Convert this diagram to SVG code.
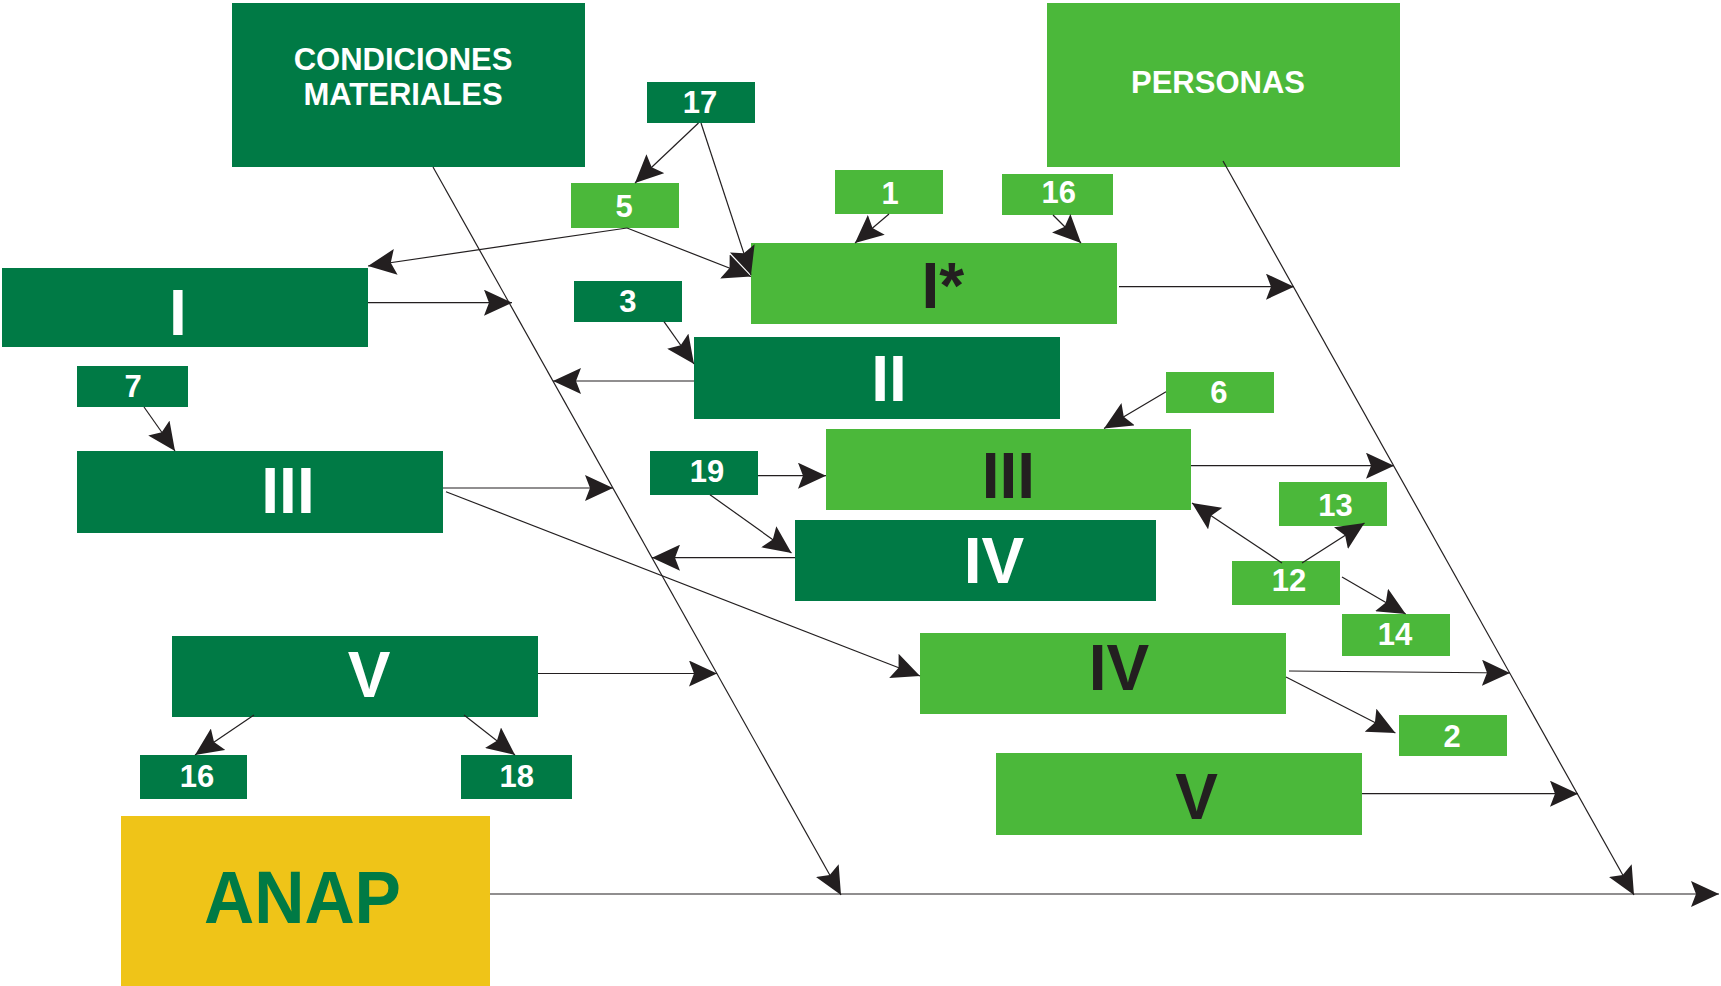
<svg xmlns="http://www.w3.org/2000/svg" width="1721" height="986" viewBox="0 0 1721 986">
<style>
.dk{fill:#007A45}
.lt{fill:#4BB83A}
.yl{fill:#EFC418}
.t{font-family:"Liberation Sans",Arial,sans-serif;font-weight:bold;text-anchor:middle}
.w{fill:#FFFFFF}
.b{fill:#231F20}
.n{font-size:31px}
.r{font-size:64px}
.h{font-size:31px}
.c{stroke:#231F20;stroke-width:1.2;fill:none;marker-end:url(#ah)}
</style>
<defs>
<marker id="ah" viewBox="0 0 28 26" markerWidth="28" markerHeight="26" refX="28" refY="13" orient="auto" markerUnits="userSpaceOnUse">
<path d="M0,0 L28,13 L0,26 L5,13 Z" fill="#231F20"/>
</marker>
</defs>
<rect width="1721" height="986" fill="#FFFFFF"/>
<g id="condiciones"><rect class="dk" x="232" y="3" width="353" height="164"/><text class="t w h" x="403" y="70">CONDICIONES</text><text class="t w h" x="403" y="105">MATERIALES</text></g>
<g id="personas"><rect class="lt" x="1047" y="3" width="353" height="164"/><text class="t w h" x="1218" y="92.5">PERSONAS</text></g>
<g id="anap"><rect class="yl" x="121" y="816" width="369" height="170"/><text class="t" x="302.5" y="923" font-size="74" fill="#007A45" textLength="197" lengthAdjust="spacingAndGlyphs">ANAP</text></g>
<g id="cm-I"><rect class="dk" x="2" y="268" width="366" height="79"/><text class="t w r" x="178" y="334.7">I</text></g>
<g id="cm-II"><rect class="dk" x="694" y="337" width="366" height="82"/><text class="t w r" x="889" y="401">II</text></g>
<g id="cm-III"><rect class="dk" x="77" y="451" width="366" height="82"/><text class="t w r" x="288" y="513">III</text></g>
<g id="cm-IV"><rect class="dk" x="795" y="520" width="361" height="81"/><text class="t w r" x="994" y="582.7">IV</text></g>
<g id="cm-V"><rect class="dk" x="172" y="636" width="366" height="81"/><text class="t w r" x="369" y="697">V</text></g>
<g id="p-I"><rect class="lt" x="751" y="243" width="366" height="81"/><text class="t b r" x="921.4" y="308.3" style="text-anchor:start">I*</text></g>
<g id="p-III"><rect class="lt" x="826" y="429" width="365" height="81"/><text class="t b r" x="1008.4" y="497.7">III</text></g>
<g id="p-IV"><rect class="lt" x="920" y="633" width="366" height="81"/><text class="t b r" x="1119" y="690">IV</text></g>
<g id="p-V"><rect class="lt" x="996" y="753" width="366" height="82"/><text class="t b r" x="1196.5" y="819.3">V</text></g>
<g id="n17"><rect class="dk" x="647" y="82" width="108" height="41"/><text class="t w n" x="700" y="113.3">17</text></g>
<g id="n5"><rect class="lt" x="571" y="183" width="108" height="45"/><text class="t w n" x="624" y="217.3">5</text></g>
<g id="n1"><rect class="lt" x="835" y="170" width="108" height="44"/><text class="t w n" x="890" y="204">1</text></g>
<g id="n16a"><rect class="lt" x="1002" y="174" width="111" height="41"/><text class="t w n" x="1058.7" y="203.3">16</text></g>
<g id="n3"><rect class="dk" x="574" y="281" width="108" height="41"/><text class="t w n" x="627.8" y="311.7">3</text></g>
<g id="n7"><rect class="dk" x="77" y="366" width="111" height="41"/><text class="t w n" x="133" y="396.7">7</text></g>
<g id="n19"><rect class="dk" x="650" y="451" width="108" height="44"/><text class="t w n" x="707" y="481.7">19</text></g>
<g id="n6"><rect class="lt" x="1166" y="372" width="108" height="41"/><text class="t w n" x="1218.8" y="402.7">6</text></g>
<g id="n13"><rect class="lt" x="1279" y="482" width="108" height="44"/><text class="t w n" x="1335.6" y="516">13</text></g>
<g id="n12"><rect class="lt" x="1232" y="561" width="108" height="44"/><text class="t w n" x="1289" y="590.7">12</text></g>
<g id="n14"><rect class="lt" x="1342" y="614" width="108" height="42"/><text class="t w n" x="1395" y="645">14</text></g>
<g id="n2"><rect class="lt" x="1399" y="715" width="108" height="41"/><text class="t w n" x="1452" y="746.7">2</text></g>
<g id="n16b"><rect class="dk" x="140" y="755" width="107" height="44"/><text class="t w n" x="197" y="786.7">16</text></g>
<g id="n18"><rect class="dk" x="461" y="755" width="111" height="44"/><text class="t w n" x="516.7" y="786.7">18</text></g>
<g id="connectors">
<line class="c" x1="433" y1="167" x2="841" y2="895"/>
<line class="c" x1="1223" y1="161" x2="1634" y2="895"/>
<line class="c" x1="490" y1="894" x2="1719" y2="894"/>
<line class="c" x1="368" y1="302.7" x2="512" y2="302.7"/>
<line class="c" x1="1119" y1="286.7" x2="1294" y2="286.7"/>
<line class="c" x1="694" y1="381" x2="553" y2="381"/>
<line class="c" x1="443" y1="488" x2="613" y2="488"/>
<line class="c" x1="446" y1="491.7" x2="920" y2="676"/>
<line class="c" x1="538" y1="673.5" x2="717" y2="673.5"/>
<line class="c" x1="795" y1="557.7" x2="652" y2="557.7"/>
<line class="c" x1="1191" y1="465.7" x2="1394" y2="465.7"/>
<line class="c" x1="1289" y1="671" x2="1510" y2="673"/>
<line class="c" x1="1362" y1="793.7" x2="1578" y2="793.7"/>
<line class="c" x1="698.5" y1="123" x2="635" y2="183"/>
<line class="c" x1="701" y1="123" x2="751" y2="275"/>
<line class="c" x1="627" y1="228" x2="751" y2="276.5"/>
<line class="c" x1="627" y1="228" x2="368" y2="266"/>
<line class="c" x1="889" y1="214" x2="855" y2="243"/>
<line class="c" x1="1053" y1="215" x2="1081" y2="243"/>
<line class="c" x1="664" y1="321.7" x2="694" y2="364"/>
<line class="c" x1="144" y1="407" x2="175" y2="451"/>
<line class="c" x1="758" y1="475.7" x2="826" y2="475.7"/>
<line class="c" x1="710" y1="494.7" x2="791.5" y2="553"/>
<line class="c" x1="1166" y1="391.7" x2="1104" y2="428.5"/>
<line class="c" x1="1282" y1="563" x2="1192" y2="503"/>
<line class="c" x1="1302" y1="563" x2="1364.5" y2="523"/>
<line class="c" x1="1342" y1="577" x2="1405.7" y2="614"/>
<line class="c" x1="1286" y1="677" x2="1395.4" y2="733"/>
<line class="c" x1="254" y1="715" x2="195" y2="755"/>
<line class="c" x1="464" y1="715" x2="515" y2="755"/>
</g>
</svg>
